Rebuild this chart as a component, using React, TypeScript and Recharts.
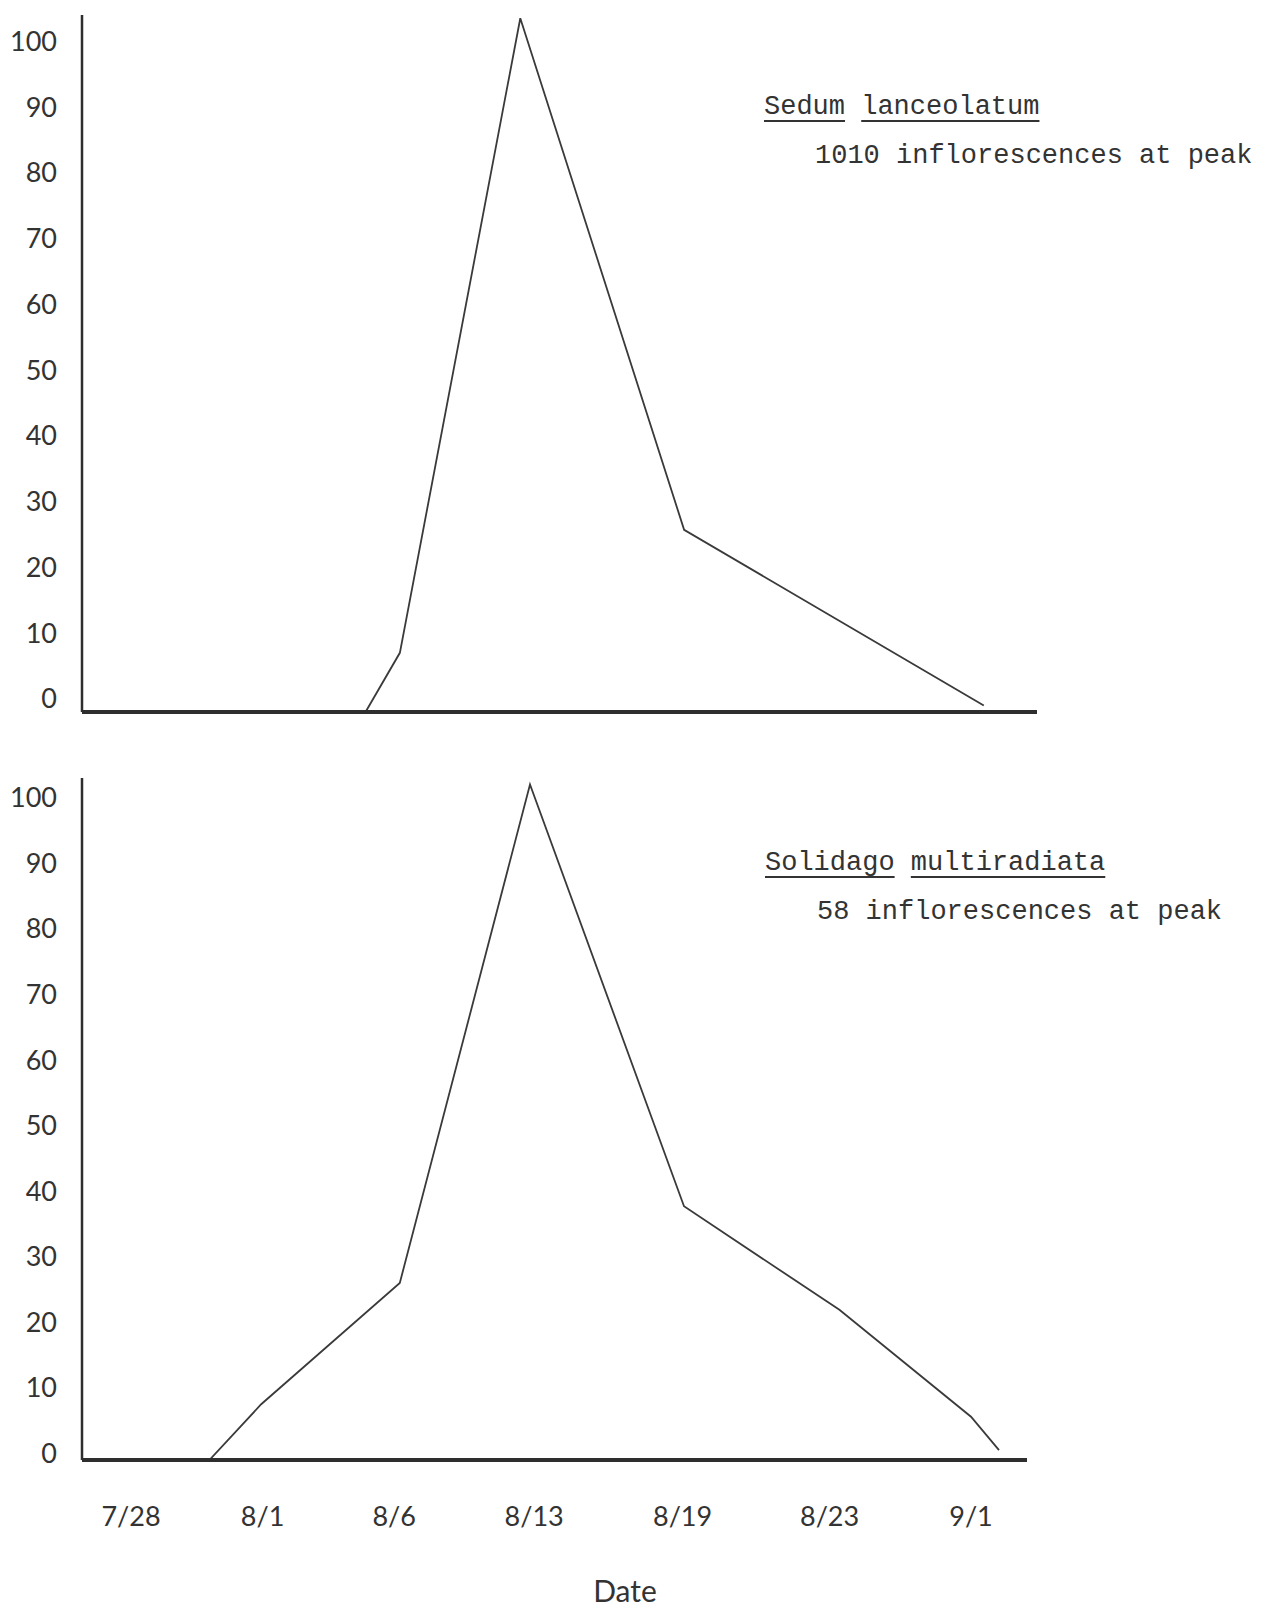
import { LineChart, Line, XAxis, YAxis } from 'recharts';

// x positions are in date-tick units (7/28 = 0 ... 9/1 = 6); the hand-drawn
// date ticks are not quite evenly spaced, so their positions are read too
const dateLabels = ['7/28', '8/1', '8/6', '8/13', '8/19', '8/23', '9/1'];
const dateTicks = [0, 0.94, 1.88, 2.88, 3.94, 4.99, 6];
const percentTicks = [0, 10, 20, 30, 40, 50, 60, 70, 80, 90, 100];

const sedumX = [1.68, 1.92, 2.78, 3.95, 6.09];
const sedumPct = [-1.8, 7, 103.5, 25.7, -1];

const solidagoX = [0.56, 0.93, 1.92, 2.85, 3.95, 5.06, 6.0, 6.2];
const solidagoPct = [-1, 7.5, 26, 102, 37.7, 21.9, 5.6, 0.5];

const sedumData = sedumX.map((x, i) => ({ x, pct: sedumPct[i] }));
const solidagoData = solidagoX.map((x, i) => ({ x, pct: solidagoPct[i] }));

const INK = '#2e2e2e';
const tickStyle = { fontFamily: 'Lato, sans-serif', fontSize: 27, fill: '#333' };
const monoStyle: React.CSSProperties = {
  position: 'absolute',
  fontFamily: '"Liberation Mono", monospace',
  fontSize: 27,
  lineHeight: '30px',
  color: '#333',
  whiteSpace: 'nowrap',
};
const underline: React.CSSProperties = {
  textDecoration: 'underline',
  textDecorationThickness: '2px',
  textUnderlineOffset: '6px',
};

function PercentAxis({ domain }: { domain: number[] }) {
  return (
    <YAxis
      type="number"
      dataKey="pct"
      domain={domain}
      ticks={percentTicks}
      allowDataOverflow
      width={82}
      tickLine={false}
      tickSize={0}
      tickMargin={25}
      tick={tickStyle}
      axisLine={{ stroke: INK, strokeWidth: 2.5 }}
    />
  );
}

export default function App() {
  return (
    <div style={{ position: 'absolute', left: 0, top: 0, width: 1264, height: 1608, background: '#fff', overflow: 'hidden' }}>
      {/* Sedum panel */}
      <div style={{ position: 'absolute', left: 0, top: 0 }}>
        <LineChart width={1264} height={716} data={sedumData} margin={{ top: 15, right: 227, bottom: 0, left: 0 }}>
          <XAxis
            type="number"
            dataKey="x"
            domain={[-0.35, 6.47]}
            ticks={dateTicks}
            allowDataOverflow
            height={4}
            tick={false}
            tickLine={false}
            axisLine={{ stroke: INK, strokeWidth: 4 }}
          />
          <PercentAxis domain={[-2, 104]} />
          <Line type="linear" dataKey="pct" stroke="#3a3a3a" strokeWidth={1.8} dot={false} isAnimationActive={false} />
        </LineChart>
      </div>

      {/* Solidago panel */}
      <div style={{ position: 'absolute', left: 0, top: 760 }}>
        <LineChart width={1264} height={848} data={solidagoData} margin={{ top: 18, right: 237, bottom: 0, left: 0 }}>
          <XAxis
            type="number"
            dataKey="x"
            domain={[-0.35, 6.4]}
            ticks={dateTicks}
            allowDataOverflow
            height={148}
            tickLine={false}
            tickSize={0}
            tickMargin={47}
            tick={tickStyle}
            tickFormatter={(v: number) => dateLabels[dateTicks.indexOf(v)]}
            axisLine={{ stroke: INK, strokeWidth: 4 }}
          />
          <PercentAxis domain={[-1, 103]} />
          <Line type="linear" dataKey="pct" stroke="#3a3a3a" strokeWidth={1.8} dot={false} isAnimationActive={false} />
        </LineChart>
      </div>

      <div style={{ ...monoStyle, left: 764, top: 92 }}>
        <span style={underline}>Sedum</span> <span style={underline}>lanceolatum</span>
      </div>
      <div style={{ ...monoStyle, left: 815, top: 141 }}>1010 inflorescences at peak</div>

      <div style={{ ...monoStyle, left: 765, top: 848 }}>
        <span style={underline}>Solidago</span> <span style={underline}>multiradiata</span>
      </div>
      <div style={{ ...monoStyle, left: 817, top: 897 }}>58 inflorescences at peak</div>

      <div
        style={{
          position: 'absolute',
          left: 625,
          top: 1574,
          transform: 'translateX(-50%)',
          fontFamily: 'Lato, sans-serif',
          fontSize: 30,
          lineHeight: '32px',
          color: '#333',
        }}
      >
        Date
      </div>
    </div>
  );
}
